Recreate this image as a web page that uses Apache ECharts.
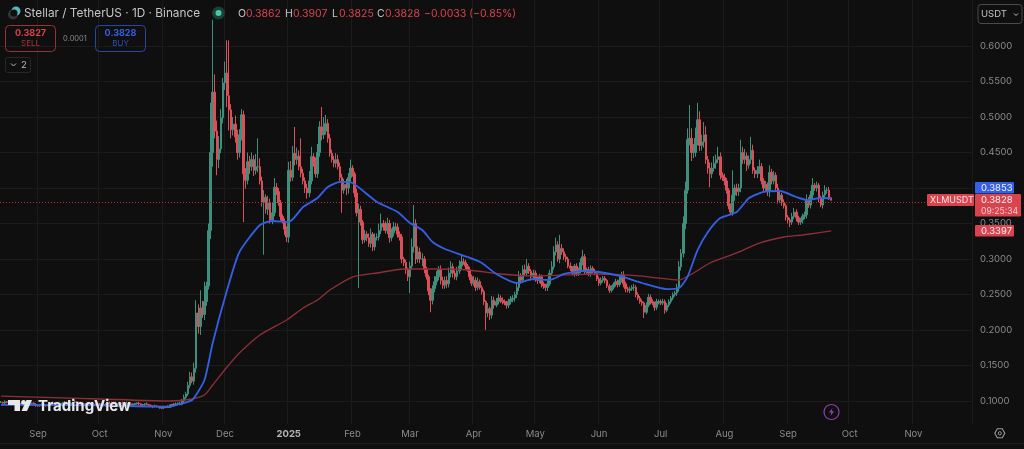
<!DOCTYPE html>
<html>
<head>
<meta charset="utf-8">
<style>html,body{margin:0;padding:0;background:#0f0f0f}#show{width:1024px;height:449px}</style>
<script src="https://cdn.jsdelivr.net/npm/echarts@6/dist/echarts.min.js"></script>
</head>
<body>
<div id="show"></div>
<script>
var firstDay = '2024-08-14';
var dayCount = 473;
var priceTicks = [0.1, 0.15, 0.2, 0.25, 0.3, 0.35, 0.4, 0.45, 0.5, 0.55, 0.6];
var monthNames = ['2025', 'Feb', 'Mar', 'Apr', 'May', 'Jun', 'Jul', 'Aug', 'Sep', 'Oct', 'Nov', 'Dec'];
var firstOpen = 0.098;
// daily closes
var closes = [
.098,.097,.099,.098,.097,.096,.098,.099,.097,.096,
.095,.096,.094,.095,.096,.097,.095,.094,.093,.094,
.095,.094,.093,.095,.096,.097,.096,.095,.094,.096,
.097,.098,.096,.095,.097,.098,.099,.098,.096,.097,
.096,.095,.096,.097,.095,.094,.095,.096,.095,.094,
.095,.096,.097,.096,.098,.097,.095,.096,.097,.096,
.095,.097,.096,.094,.095,.096,.097,.096,.094,.095,
.096,.095,.094,.093,.092,.093,.092,.091,.090,.091,
.092,.091,.093,.095,.094,.096,.097,.095,.100,.105,
.110,.122,.134,.128,.146,.224,.205,.231,.222,.240,
.262,.340,.450,.535,.480,.440,.455,.499,.548,.562,
.530,.510,.482,.490,.472,.450,.475,.503,.420,.411,
.437,.430,.440,.425,.430,.430,.410,.380,.387,.370,
.379,.355,.365,.401,.395,.379,.360,.353,.342,.331,
.425,.415,.449,.440,.445,.430,.421,.410,.400,.393,
.410,.444,.435,.420,.450,.486,.475,.480,.491,.470,
.449,.440,.435,.440,.430,.415,.397,.405,.400,.415,
.428,.420,.393,.365,.370,.352,.327,.335,.330,.322,
.335,.317,.330,.331,.340,.350,.345,.340,.350,.330,
.337,.345,.345,.335,.331,.300,.295,.285,.275,.290,
.317,.350,.300,.310,.300,.300,.285,.275,.255,.242,
.258,.268,.275,.285,.270,.263,.270,.265,.280,.289,
.280,.275,.283,.290,.296,.295,.290,.285,.275,.266,
.270,.260,.268,.260,.254,.240,.224,.230,.221,.242,
.235,.240,.245,.242,.240,.238,.235,.240,.243,.245,
.250,.260,.275,.270,.285,.280,.290,.283,.275,.280,
.272,.270,.275,.265,.262,.260,.265,.280,.289,.310,
.320,.300,.315,.310,.303,.300,.290,.287,.280,.290,
.280,.283,.295,.303,.282,.285,.280,.287,.283,.280,
.272,.266,.270,.273,.270,.262,.256,.260,.264,.268,
.264,.270,.277,.265,.258,.256,.258,.260,.260,.250,
.245,.240,.238,.225,.235,.246,.240,.238,.232,.240,
.240,.238,.240,.228,.235,.240,.245,.250,.252,.260,
.289,.308,.350,.397,.468,.470,.450,.450,.470,.496,
.460,.465,.475,.440,.428,.420,.428,.435,.440,.444,
.418,.415,.410,.397,.375,.366,.390,.400,.395,.400,
.450,.440,.445,.432,.440,.453,.425,.420,.425,.430,
.410,.400,.405,.395,.422,.410,.418,.400,.383,.390,
.380,.375,.359,.355,.352,.360,.366,.358,.352,.355,
.360,.362,.383,.376,.390,.404,.400,.404,.385,.376,
.390,.397,.397,.3862,.3828];
// wick length above and below the body, in 0.001
var upperWicks = [
2,1,2,1,1,2,1,2,1,1, 1,2,1,1,2,1,1,2,1,1, 2,1,1,2,1,2,1,1,2,1, 1,2,1,2,1,1,2,1,1,2,
1,1,2,1,1,2,1,2,1,1, 2,1,1,2,1,1,2,1,1,2, 1,2,1,1,2,1,1,2,1,1, 1,2,1,1,1,2,1,1,1,2,
1,2,2,1,2,2,1,2,3,4,
3,5,7,6,8,18,12,25,10,28,
6,10,70,102,25,15,18,12,7,16,
46,78,8,10,12,10,8,8,6,8,
13,8,10,6,18,40,12,6,10,4,
10,6,15,13,6,5,4,3,4,4,
12,13,10,37,12,8,40,6,5,6,
14,14,5,8,12,8,28,20,12,6,
6,5,5,9,7,6,5,8,8,6,
12,4,3,6,8,5,3,6,4,6,
8,3,6,5,10,14,5,8,8,5,
6,7,6,5,4,4,3,4,3,6,
12,26,6,8,6,8,4,4,3,4,
5,8,8,5,6,5,5,6,8,8,
5,4,6,8,10,5,4,3,4,3,
6,4,6,3,3,3,2,8,3,6,
5,5,6,4,4,3,3,4,5,4,
4,6,8,5,6,7,10,4,3,5,
4,3,4,3,3,3,4,5,8,8,
10,5,19,6,5,4,3,5,3,3,
4,5,6,10,4,3,4,4,3,3,
3,3,4,3,3,2,3,3,3,4,
3,5,5,6,3,3,3,3,5,3,
3,3,3,2,4,5,4,3,2,4,
3,3,4,3,3,3,3,3,3,5,
8,6,10,12,16,47,14,12,15,24,
12,10,18,12,5,8,8,10,7,14,
6,4,5,4,3,3,35,5,6,6,
18,8,10,5,6,19,8,4,6,10,
5,4,5,3,10,5,6,4,6,5,
3,4,3,3,3,5,6,4,3,3,
4,5,8,4,6,10,3,5,3,4,
5,7,4,4.5,1];
var lowerWicks = [
1,1,2,1,2,1,1,2,1,1, 2,1,1,2,1,1,1,2,1,1, 1,2,1,1,1,2,1,1,2,1, 1,1,2,1,1,2,1,1,1,2,
1,2,1,1,2,1,1,1,2,1, 1,2,1,1,1,2,1,2,1,1, 2,1,1,2,1,1,1,2,1,1, 2,1,1,1,2,1,1,2,1,1,
1,1,1,2,1,1,2,1,1,2,
2,3,4,3,5,6,10,12,5,8,
6,5,12,20,10,22,12,6,8,10,
16,29,12,8,8,10,7,8,68,12,
6,10,6,8,6,8,5,6,74,6,
8,5,6,5,5,4,6,3,8,7,
8,6,5,8,7,5,6,5,7,8,
6,5,5,5,6,6,8,6,5,6,
5,4,6,6,4,5,32,5,10,8,
6,4,6,5,106,5,6,4,5,5,
6,6,5,4,5,5,5,4,5,7,
5,5,5,5,5,6,5,6,6,23,
5,8,7,5,6,10,5,4,6,17,
6,5,5,5,6,5,5,6,5,6,
6,4,5,4,5,3,5,3,5,4,
4,5,4,3,4,5,24,6,7,5,
5,3,4,4,4,3,5,4,4,4,
5,5,5,5,4,4,4,4,5,5,
4,5,4,5,4,5,5,3,4,4,
5,4,6,4,4,4,3,4,3,5,
4,4,3,4,3,3,4,5,3,3,
3,4,3,3,4,3,4,3,3,3,
4,3,3,5,5,3,4,3,5,4,
3,3,4,8,3,3,4,3,5,4,
4,3,3,5,3,3,3,3,3,4,
6,5,6,8,5,8,12,8,6,10,
8,7,8,6,8,19,6,5,8,5,
6,5,6,5,5,3,5,8,6,6,
6,6,6,8,5,6,5,6,6,5,
5,6,4,6,8,5,5,4,5,4,
5,4,5,5,7,4,4,5,4,4,
5,4,5,4,5,6,4,5,5,3,
5,4,5,3,0.3];
// moving averages: day number and value at points
var fastDays = [0,48,82,87,93,99,103,110,116,126,132,140,147,154,159,165,171,183,193,199,205,210,216,227,234,241,251,259,267,274,283,291,301,312,324,330,334,339,344,350,358,364,371,379,387,392,399,404];
var fastValues = [.0944,.0937,.092,.0958,.1014,.1296,.1817,.2563,.3099,.3479,.3535,.3521,.3732,.3859,.4014,.4085,.407,.3803,.3662,.3507,.3408,.3239,.3141,.3028,.2944,.2789,.2662,.2718,.2704,.2789,.2831,.2817,.2761,.2662,.2577,.2592,.2746,.3127,.338,.3577,.3662,.3859,.3944,.3958,.3873,.3831,.3859,.3853];
var slowDays = [0,48,82,93,99,103,110,116,126,139,147,154,160,171,183,196,210,227,243,259,275,288,303,316,330,337,345,358,369,381,390,404];
var slowValues = [.107,.1028,.1,.1028,.1085,.1225,.1479,.1676,.193,.2141,.231,.2423,.2563,.2746,.2803,.2859,.2859,.2845,.2789,.2761,.2775,.2789,.2775,.2746,.2704,.2803,.2944,.3085,.3225,.331,.3338,.3397];
var lastPrice = 0.3828;

var UP = '#3f8f7d', DOWN = '#dc4f59', RED = '#d8434e', BLUE = '#3560e6', GRID = '#1a1b1b', AXISTEXT = '#8b8b8b';

var days = [];
for (var d = 0; d < dayCount; d++) {
    days.push(new Date(Date.parse(firstDay) + d * 86400000).toISOString().slice(0, 10));
}
var isMonthStart = function (i, v) { return v.slice(8) == '01'; };

var candles = closes.map(function (c, i) {
    var o = i == 0 ? firstOpen : closes[i - 1];
    return [o, c, Math.min(o, c) - lowerWicks[i] / 1000, Math.max(o, c) + upperWicks[i] / 1000];
});
function pairs(xs, ys) {
    return xs.map(function (x, i) { return [x, ys[i]]; });
}

function txt(x, y, s, color, size, align, weight) {
    return {type: 'text', x: x, y: y, z: 100, silent: true, style: {
        text: s, fill: color, fontSize: size, fontFamily: 'Inter', fontWeight: weight || 'normal',
        textAlign: align || 'left', textVerticalAlign: 'middle'
    }};
}
function box(x, y, w, h, fill, stroke, r) {
    return {type: 'rect', z: 99, silent: true, shape: {x: x, y: y, width: w, height: h, r: r || 0},
        style: {fill: fill, stroke: stroke || null, lineWidth: 1}};
}
function poly(points, fill) {
    return {type: 'polygon', z: 100, silent: true, shape: {points: points}, style: {fill: fill}};
}

var chrome = [
    // header
    {type: 'circle', z: 99, silent: true, shape: {cx: 13, cy: 14.5, r: 5}, style: {fill: '#30363a'}},
    {type: 'circle', z: 99, silent: true, shape: {cx: 16, cy: 11, r: 4.5}, style: {fill: '#57b8c0'}},
    {type: 'circle', z: 99, silent: true, shape: {cx: 14, cy: 13, r: 3.5}, style: {fill: '#0f0f0f'}},
    {type: 'circle', z: 99, silent: true, shape: {cx: 218.5, cy: 13, r: 6.5}, style: {fill: '#1c4039'}},
    {type: 'circle', z: 100, silent: true, shape: {cx: 218.5, cy: 13, r: 3}, style: {fill: '#45c9a8'}},
    txt(24, 13.5, 'Stellar / TetherUS · 1D · Binance', '#c4c4c4', 11.8),
    txt(238, 13.5, 'O', '#c4c4c4', 10.5), txt(246, 13.5, '0.3862', RED, 10.5),
    txt(285, 13.5, 'H', '#c4c4c4', 10.5), txt(293, 13.5, '0.3907', RED, 10.5),
    txt(332, 13.5, 'L', '#c4c4c4', 10.5), txt(339, 13.5, '0.3825', RED, 10.5),
    txt(377, 13.5, 'C', '#c4c4c4', 10.5), txt(385, 13.5, '0.3828', RED, 10.5),
    txt(424, 13.5, '−0.0033 (−0.85%)', RED, 10.5),
    // sell / buy
    box(5.5, 25.5, 50, 26, 'transparent', '#96323a', 4),
    txt(30.5, 33, '0.3827', '#d8434e', 9, 'center', 'bold'),
    txt(30.5, 44, 'SELL', '#a5343c', 8, 'center'),
    txt(75, 39, '0.0001', '#8a8a8a', 7.5, 'center'),
    box(95.5, 25.5, 50, 26, 'transparent', '#28479f', 4),
    txt(120.5, 33, '0.3828', '#3560e6', 9, 'center', 'bold'),
    txt(120.5, 44, 'BUY', '#2f50b4', 8, 'center'),
    box(5.5, 57.5, 25, 15, 'transparent', '#272727', 2),
    {type: 'polyline', z: 100, silent: true, shape: {points: [[11, 63.5], [13.5, 66], [16, 63.5]]}, style: {stroke: '#bdbdbd', lineWidth: 1, fill: null}},
    txt(24, 65.5, '2', '#bdbdbd', 9.5, 'center'),
    // currency selector
    box(978, 4.5, 44, 19, 'transparent', '#4a4a4a', 3),
    txt(981, 14.5, 'USDT', '#c4c4c4', 9.5),
    {type: 'polyline', z: 100, silent: true, shape: {points: [[1014, 13.5], [1016, 15.5], [1018, 13.5]]}, style: {stroke: '#c4c4c4', lineWidth: 1, fill: null}},
    // price tags
    box(975, 182, 39, 11.5, BLUE, null, 1),
    txt(981, 188.3, '0.3853', '#f2f2f2', 9.5),
    box(927, 194, 47, 12, RED, null, 1),
    txt(930, 200.3, 'XLMUSDT', '#f5e6e6', 9),
    box(975, 194, 46, 22.5, RED, null, 1),
    txt(981, 200.3, '0.3828', '#f5f5f5', 9.5),
    txt(981, 211, '09:25:34', '#f3c9cc', 8.6),
    box(975, 225, 39, 11.5, RED, null, 1),
    txt(981, 231.3, '0.3397', '#f5f5f5', 9.5),
    // watermark
    poly([[8, 400], [20, 400], [20, 411], [14.5, 411], [14.5, 405], [8, 405]], '#e8e8e8'),
    {type: 'circle', z: 100, silent: true, shape: {cx: 23.5, cy: 402.3, r: 2.4}, style: {fill: '#e8e8e8'}},
    poly([[26.5, 400], [32, 400], [27, 411], [21.5, 411]], '#e8e8e8'),
    txt(38, 406, 'TradingView', '#e8e8e8', 15, 'left', 'bold'),
    // bottom
    {type: 'circle', z: 100, silent: true, shape: {cx: 831.5, cy: 412, r: 7.5}, style: {fill: 'transparent', stroke: '#8d3fa8', lineWidth: 1.2}},
    poly([[832.5, 408], [828.8, 412.6], [831.2, 412.6], [830.5, 416], [834.2, 411.2], [831.8, 411.2]], '#8d3fa8'),
    {type: 'polygon', z: 100, silent: true, shape: {points: [[997.3, 428.8], [1002.3, 428.8], [1004.8, 433.3], [1002.3, 437.8], [997.3, 437.8], [994.8, 433.3]]}, style: {fill: 'transparent', stroke: '#9a9a9a', lineWidth: 1.1}},
    {type: 'circle', z: 100, silent: true, shape: {cx: 999.8, cy: 433.3, r: 1.6}, style: {fill: 'transparent', stroke: '#9a9a9a', lineWidth: 1}},
    {type: 'line', z: 98, silent: true, shape: {x1: 0, y1: 443.5, x2: 1024, y2: 443.5}, style: {stroke: '#1b1b1b', lineWidth: 1}}
];

var myChart = echarts.init(document.getElementById('show'));
var option = {
    animation: false,
    backgroundColor: '#0f0f0f',
    graphic: chrome,
    grid: {left: 0, right: 52, top: 0, bottom: 25},
    xAxis: {
        type: 'category',
        data: days,
        axisLine: {show: false},
        axisTick: {show: false},
        splitLine: {show: true, interval: isMonthStart, lineStyle: {color: GRID, width: 1}},
        axisLabel: {
            interval: isMonthStart,
            margin: 5,
            fontFamily: 'Inter',
            fontSize: 9.5,
            color: AXISTEXT,
            formatter: function (v) {
                var m = parseInt(v.slice(5, 7), 10) - 1;
                return m == 0 ? '{y|' + monthNames[m] + '}' : monthNames[m];
            },
            rich: {y: {fontFamily: 'Inter', fontSize: 9.5, fontWeight: 'bold', color: '#b5b5b5'}}
        }
    },
    yAxis: {
        type: 'value',
        position: 'right',
        min: 0.0676,
        max: 0.6648,
        axisLine: {show: false},
        axisTick: {show: false, customValues: priceTicks},
        splitLine: {show: true, customValues: priceTicks, lineStyle: {color: GRID, width: 1}},
        axisLabel: {
            customValues: priceTicks,
            margin: 8,
            padding: [2, 0, 0, 0],
            fontFamily: 'Inter',
            fontSize: 9.5,
            color: AXISTEXT,
            formatter: function (v) { return v.toFixed(4); }
        }
    },
    series: [
        {
            name: 'XLMUSDT',
            type: 'candlestick',
            data: candles,
            barWidth: 2,
            z: 2,
            itemStyle: {color: UP, color0: DOWN, borderColor: UP, borderColor0: DOWN, borderWidth: 1},
            markLine: {
                silent: true,
                symbol: 'none',
                label: {show: false},
                lineStyle: {color: '#9a333b', type: [1, 2], width: 1},
                data: [{yAxis: lastPrice}]
            }
        },
        {
            name: 'MA fast',
            type: 'line',
            data: pairs(fastDays, fastValues),
            showSymbol: false,
            smooth: 0.2,
            z: 4,
            lineStyle: {color: BLUE, width: 1.8}
        },
        {
            name: 'MA slow',
            type: 'line',
            data: pairs(slowDays, slowValues),
            showSymbol: false,
            smooth: 0.2,
            z: 3,
            lineStyle: {color: '#8d3137', width: 1.3}
        }
    ]
};
myChart.setOption(option);
</script>
</body>
</html>
